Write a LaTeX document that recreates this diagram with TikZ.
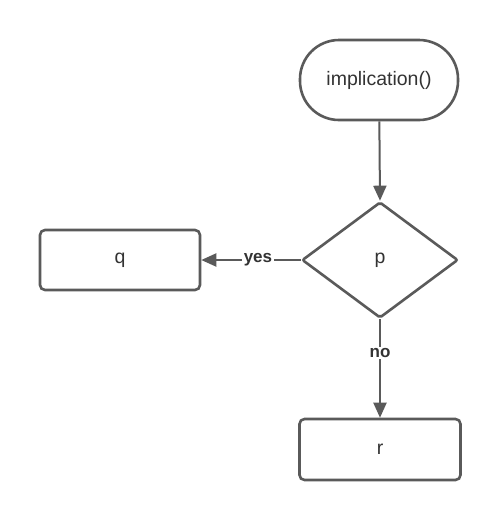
\documentclass[tikz,border=0pt]{standalone}
\usepackage{fontspec}
\setmainfont{Liberation Sans}
\usetikzlibrary{arrows.meta,shapes.geometric}
\definecolor{ln}{HTML}{5A5A5A}
\definecolor{tx}{HTML}{333333}
\begin{document}
\begin{tikzpicture}[x=1pt,y=-1pt,
  every node/.style={text=tx,font=\fontsize{19.5}{23}\selectfont},
  base/.style={draw=ln,line width=2.6pt,fill=white,inner sep=0pt},
  term/.style={base,rounded corners=39pt,minimum width=158pt,minimum height=80pt},
  proc/.style={base,rounded corners=5pt,minimum width=160pt,minimum height=60pt},
  conn/.style={draw=ln,line width=2pt,-{Triangle[length=15pt,width=13pt]}},
  lbl/.style={fill=white,inner sep=1.5pt,font=\bfseries\fontsize{17}{19}\selectfont}]
\useasboundingbox (0,0) rectangle (500,520);
\fill[white] (0,0) rectangle (500,520);
\node[term] (start) at (379,80) {implication()};
\node[base,shape=diamond,minimum width=156pt,minimum height=116pt,inner sep=0pt,rounded corners=2pt] (p) at (380,260) {};
\node at (p.center) {p};
\node[proc] (q) at (120,260) {q};
\node[proc,minimum width=161pt,minimum height=61pt] (r) at (380,449.5) {r};
\draw[conn] (start) -- (p.north);
\draw[conn] (p.west) -- node[lbl,pos=0.43] {yes} (q.east);
\draw[conn] (p.south) -- node[lbl,pos=0.34] {no} (r.north);
\end{tikzpicture}
\end{document}
